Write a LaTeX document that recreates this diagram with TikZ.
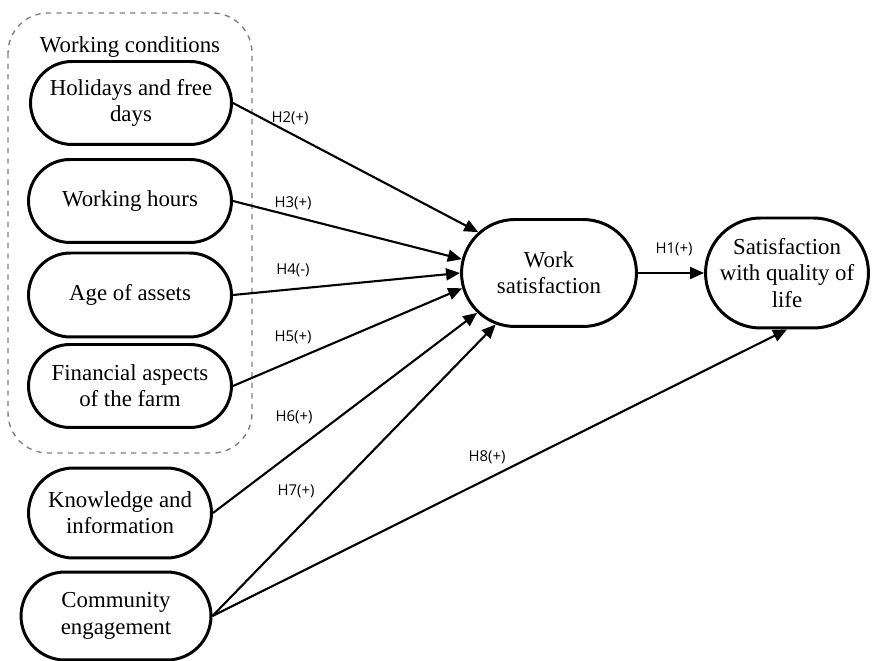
\documentclass[tikz,border=0pt]{standalone}
\usepackage{fontspec}
\setmainfont{Liberation Serif}
\newfontfamily\hyfont{Open Sans}
\usetikzlibrary{arrows.meta,shapes.misc}

\tikzset{
  construct/.style={draw, rounded rectangle, line width=1.7pt, align=center,
    font=\fontsize{13}{15}\selectfont, inner sep=2pt},
  path/.style={line width=1.2pt, -{Triangle[length=0.28cm,width=0.24cm]}},
  hyp/.style={font=\hyfont\fontsize{8.5}{10}\selectfont, inner sep=1pt}
}

\begin{document}
\begin{tikzpicture}[x=0.02cm, y=-0.02cm]
  \useasboundingbox (0,0) rectangle (875,661);

  % Group of working conditions
  \draw[gray, dashed, line width=0.8pt, rounded corners=0.8cm] (8,13) rectangle (252,453);
  \node[font=\fontsize{13}{15}\selectfont] (wc) at (130,47) {Working conditions};

  % Constructs
  \node[construct, minimum width=4.16cm, minimum height=1.66cm] (hol) at (131,103) {Holidays and free\\days};
  \node[construct, minimum width=4.2cm, minimum height=1.66cm] (hrs) at (130,201) {Working hours};
  \node[construct, minimum width=4.2cm, minimum height=1.68cm] (age) at (130,295) {Age of assets};
  \node[construct, minimum width=4.2cm, minimum height=1.66cm] (fin) at (130,386) {Financial aspects\\of the farm};
  \node[construct, minimum width=3.8cm, minimum height=1.8cm] (know) at (120,513) {Knowledge and\\information};
  \node[construct, minimum width=3.94cm, minimum height=1.76cm] (comm) at (116,616) {Community\\engagement};
  \node[construct, minimum width=3.64cm, minimum height=2.14cm] (ws) at (549,273) {Work\\satisfaction};
  \node[construct, minimum width=3.4cm, minimum height=2.2cm] (qol) at (787,273) {Satisfaction\\with quality of\\life};

  % Hypothesised paths
  \draw[path] (hol.east) -- (ws.150);
  \draw[path] (hrs.east) -- (ws.171);
  \draw[path] (age.east) -- (ws.180);
  \draw[path] (fin.east) -- (ws.190);
  \draw[path] (know.east) -- (ws.209);
  \draw[path] (comm.east) -- (ws.224);
  \draw[path] (comm.east) -- (qol.south);
  \draw[path] (ws.east) -- (qol.west);

  % Path labels
  \node[hyp] (h1) at (674,249) {H1(+)};
  \node[hyp] (h2) at (290,118) {H2(+)};
  \node[hyp] (h3) at (293,203) {H3(+)};
  \node[hyp] (h4) at (293,270) {H4(-)};
  \node[hyp] (h5) at (293,337) {H5(+)};
  \node[hyp] (h6) at (294,417) {H6(+)};
  \node[hyp] (h7) at (296,491) {H7(+)};
  \node[hyp] (h8) at (487,457) {H8(+)};
\end{tikzpicture}
\end{document}
